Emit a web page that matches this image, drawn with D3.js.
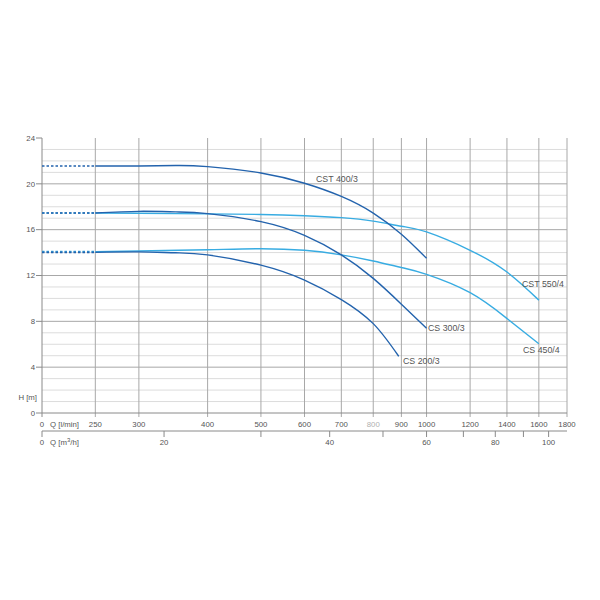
<!DOCTYPE html>
<html><head><meta charset="utf-8">
<script src="https://cdn.jsdelivr.net/npm/d3@7/dist/d3.min.js"></script>
<style>body{margin:0;background:#fff}svg{display:block}text{font-family:"Liberation Sans",Arial,sans-serif}</style>
</head><body>
<script>
// ---- data ----
const qTicks = [250, 300, 400, 500, 600, 700, 800, 900, 1000, 1200, 1400, 1600, 1800];
const m3Ticks = [20, 30, 40, 50, 60, 70, 80, 90, 100];
const m3Labeled = [20, 40, 60, 80, 100];
const hTicks = [0, 4, 8, 12, 16, 20, 24];
const hMinor = d3.range(0, 25, 1);

const cst400Q = [250, 300, 350, 400, 500, 600, 700, 800, 900, 1000];
const cst400H = [21.55, 21.55, 21.6, 21.5, 20.95, 20.05, 18.9, 17.45, 15.6, 13.5];
const cs300Q = [250, 300, 350, 400, 500, 600, 700, 800, 900, 1000];
const cs300H = [17.45, 17.6, 17.55, 17.4, 16.7, 15.5, 13.8, 11.75, 9.5, 7.4];
const cs200Q = [250, 300, 350, 400, 500, 600, 700, 800, 890];
const cs200H = [14.02, 14.06, 13.98, 13.8, 12.9, 11.6, 9.9, 7.8, 4.95];
const cst550Q = [250, 300, 400, 500, 600, 700, 800, 900, 1000, 1200, 1400, 1600];
const cst550H = [17.45, 17.43, 17.38, 17.33, 17.22, 17.05, 16.75, 16.3, 15.8, 14.2, 12.3, 9.85];
const cs450Q = [250, 300, 400, 500, 600, 700, 800, 900, 1000, 1200, 1400, 1600];
const cs450H = [14.08, 14.14, 14.25, 14.34, 14.2, 13.8, 13.27, 12.7, 12.1, 10.5, 8.25, 6.05];

const seriesNames = ["CST 400/3", "CS 300/3", "CS 200/3", "CST 550/4", "CS 450/4"];
const seriesQ = [cst400Q, cs300Q, cs200Q, cst550Q, cs450Q];
const seriesH = [cst400H, cs300H, cs200H, cst550H, cs450H];
const seriesKind = ["dark", "dark", "dark", "light", "light"];
const colors = {dark: "#2363ad", light: "#38ace2"};

// ---- chart ----
const W = 600, H = 600;
const svg = d3.select("body").append("svg").attr("width", W).attr("height", H);
const x = d3.scaleLog().domain([200, 1800]).range([42, 567]);
const y = d3.scaleLinear().domain([0, 24]).range([413, 138]);
const m3 = v => x(v * 1000 / 60);

const g = svg.append("g");
// minor horizontal grid
g.selectAll(".hmin").data(hMinor.filter(d => d % 4 !== 0 && d < 24)).join("line")
  .attr("x1", x(200)).attr("x2", x(1800)).attr("y1", d => y(d)).attr("y2", d => y(d))
  .attr("stroke", "#dcdcdc").attr("stroke-width", 1);
// major horizontal grid
g.selectAll(".hmaj").data(hTicks.filter(d => d > 0 && d < 24)).join("line")
  .attr("x1", x(200)).attr("x2", x(1800)).attr("y1", d => y(d)).attr("y2", d => y(d))
  .attr("stroke", "#a8a8a8").attr("stroke-width", 1);
// vertical grid + ticks
g.selectAll(".vg").data(qTicks).join("line")
  .attr("x1", d => x(d)).attr("x2", d => x(d)).attr("y1", y(24)).attr("y2", y(0) + 4)
  .attr("stroke", "#a8a8a8").attr("stroke-width", 1);
// left axis
g.append("line").attr("x1", x(200)).attr("x2", x(200)).attr("y1", y(24)).attr("y2", y(0) + 4)
  .attr("stroke", "#8a8a8a");
// bottom axis
g.append("line").attr("x1", x(200)).attr("x2", x(1800)).attr("y1", y(0)).attr("y2", y(0))
  .attr("stroke", "#8a8a8a");
// y ticks
g.selectAll(".yt").data(hTicks).join("line")
  .attr("x1", x(200) - 6).attr("x2", x(200)).attr("y1", d => y(d)).attr("y2", d => y(d))
  .attr("stroke", "#8a8a8a");
g.selectAll(".yl").data(hTicks).join("text")
  .attr("x", x(200) - 7).attr("y", d => y(d) + 2.7).attr("text-anchor", "end")
  .attr("font-size", 7.8).attr("fill", "#555").text(d => d);
g.append("text").attr("x", 37).attr("y", 400).attr("text-anchor", "end")
  .attr("font-size", 7.8).attr("fill", "#555").text("H [m]");

// x labels (l/min)
g.selectAll(".xl").data(qTicks).join("text")
  .attr("x", d => x(d)).attr("y", 427).attr("text-anchor", "middle")
  .attr("font-size", 7.8).attr("fill", d => d === 800 ? "#b0b0b0" : "#555").text(d => d);
g.append("text").attr("x", x(200)).attr("y", 427).attr("text-anchor", "middle")
  .attr("font-size", 7.8).attr("fill", "#555").text("0");
g.append("text").attr("x", 50).attr("y", 427).attr("font-size", 7.8).attr("fill", "#555").text("Q [l/min]");

// second axis (m3/h)
const ay = 431;
g.append("line").attr("x1", x(200)).attr("x2", x(1800)).attr("y1", ay).attr("y2", ay).attr("stroke", "#8a8a8a");
g.append("line").attr("x1", x(200)).attr("x2", x(200)).attr("y1", ay).attr("y2", ay + 6).attr("stroke", "#8a8a8a");
g.selectAll(".mt").data(m3Ticks).join("line")
  .attr("x1", d => m3(d)).attr("x2", d => m3(d)).attr("y1", ay).attr("y2", ay + 6).attr("stroke", "#8a8a8a");
g.selectAll(".ml").data(m3Labeled).join("text")
  .attr("x", d => m3(d)).attr("y", 445).attr("text-anchor", "middle")
  .attr("font-size", 7.8).attr("fill", "#555").text(d => d);
g.append("text").attr("x", x(200)).attr("y", 445).attr("text-anchor", "middle")
  .attr("font-size", 7.8).attr("fill", "#555").text("0");
const qm = g.append("text").attr("x", 50).attr("y", 445).attr("font-size", 7.8).attr("fill", "#555");
qm.append("tspan").text("Q [m");
qm.append("tspan").attr("dy", -3).attr("font-size", 6).text("3");
qm.append("tspan").attr("dy", 3).text("/h]");

// curves
const line = d3.line().x(d => x(d[0])).y(d => y(d[1])).curve(d3.curveNatural);
const order = [3, 4, 0, 1, 2];
order.forEach(i => {
  const pts = seriesQ[i].map((q, j) => [q, seriesH[i][j]]);
  const c = colors[seriesKind[i]];
  g.append("line").attr("x1", x(200)).attr("x2", x(seriesQ[i][0]))
    .attr("y1", y(seriesH[i][0])).attr("y2", y(seriesH[i][0]))
    .attr("stroke", c).attr("stroke-width", 1.6).attr("stroke-dasharray", "2.5,2");
  g.append("path").datum(pts).attr("d", line).attr("fill", "none")
    .attr("stroke", c).attr("stroke-width", 1.4);
});

// curve labels
const labelPos = [[316, 182], [428, 331], [403, 364], [522, 287], [523, 353]];
g.selectAll(".cl").data(seriesNames).join("text")
  .attr("x", (d, i) => labelPos[i][0]).attr("y", (d, i) => labelPos[i][1])
  .attr("font-size", 8.8).attr("fill", "#555").text(d => d);
</script>
</body></html>
